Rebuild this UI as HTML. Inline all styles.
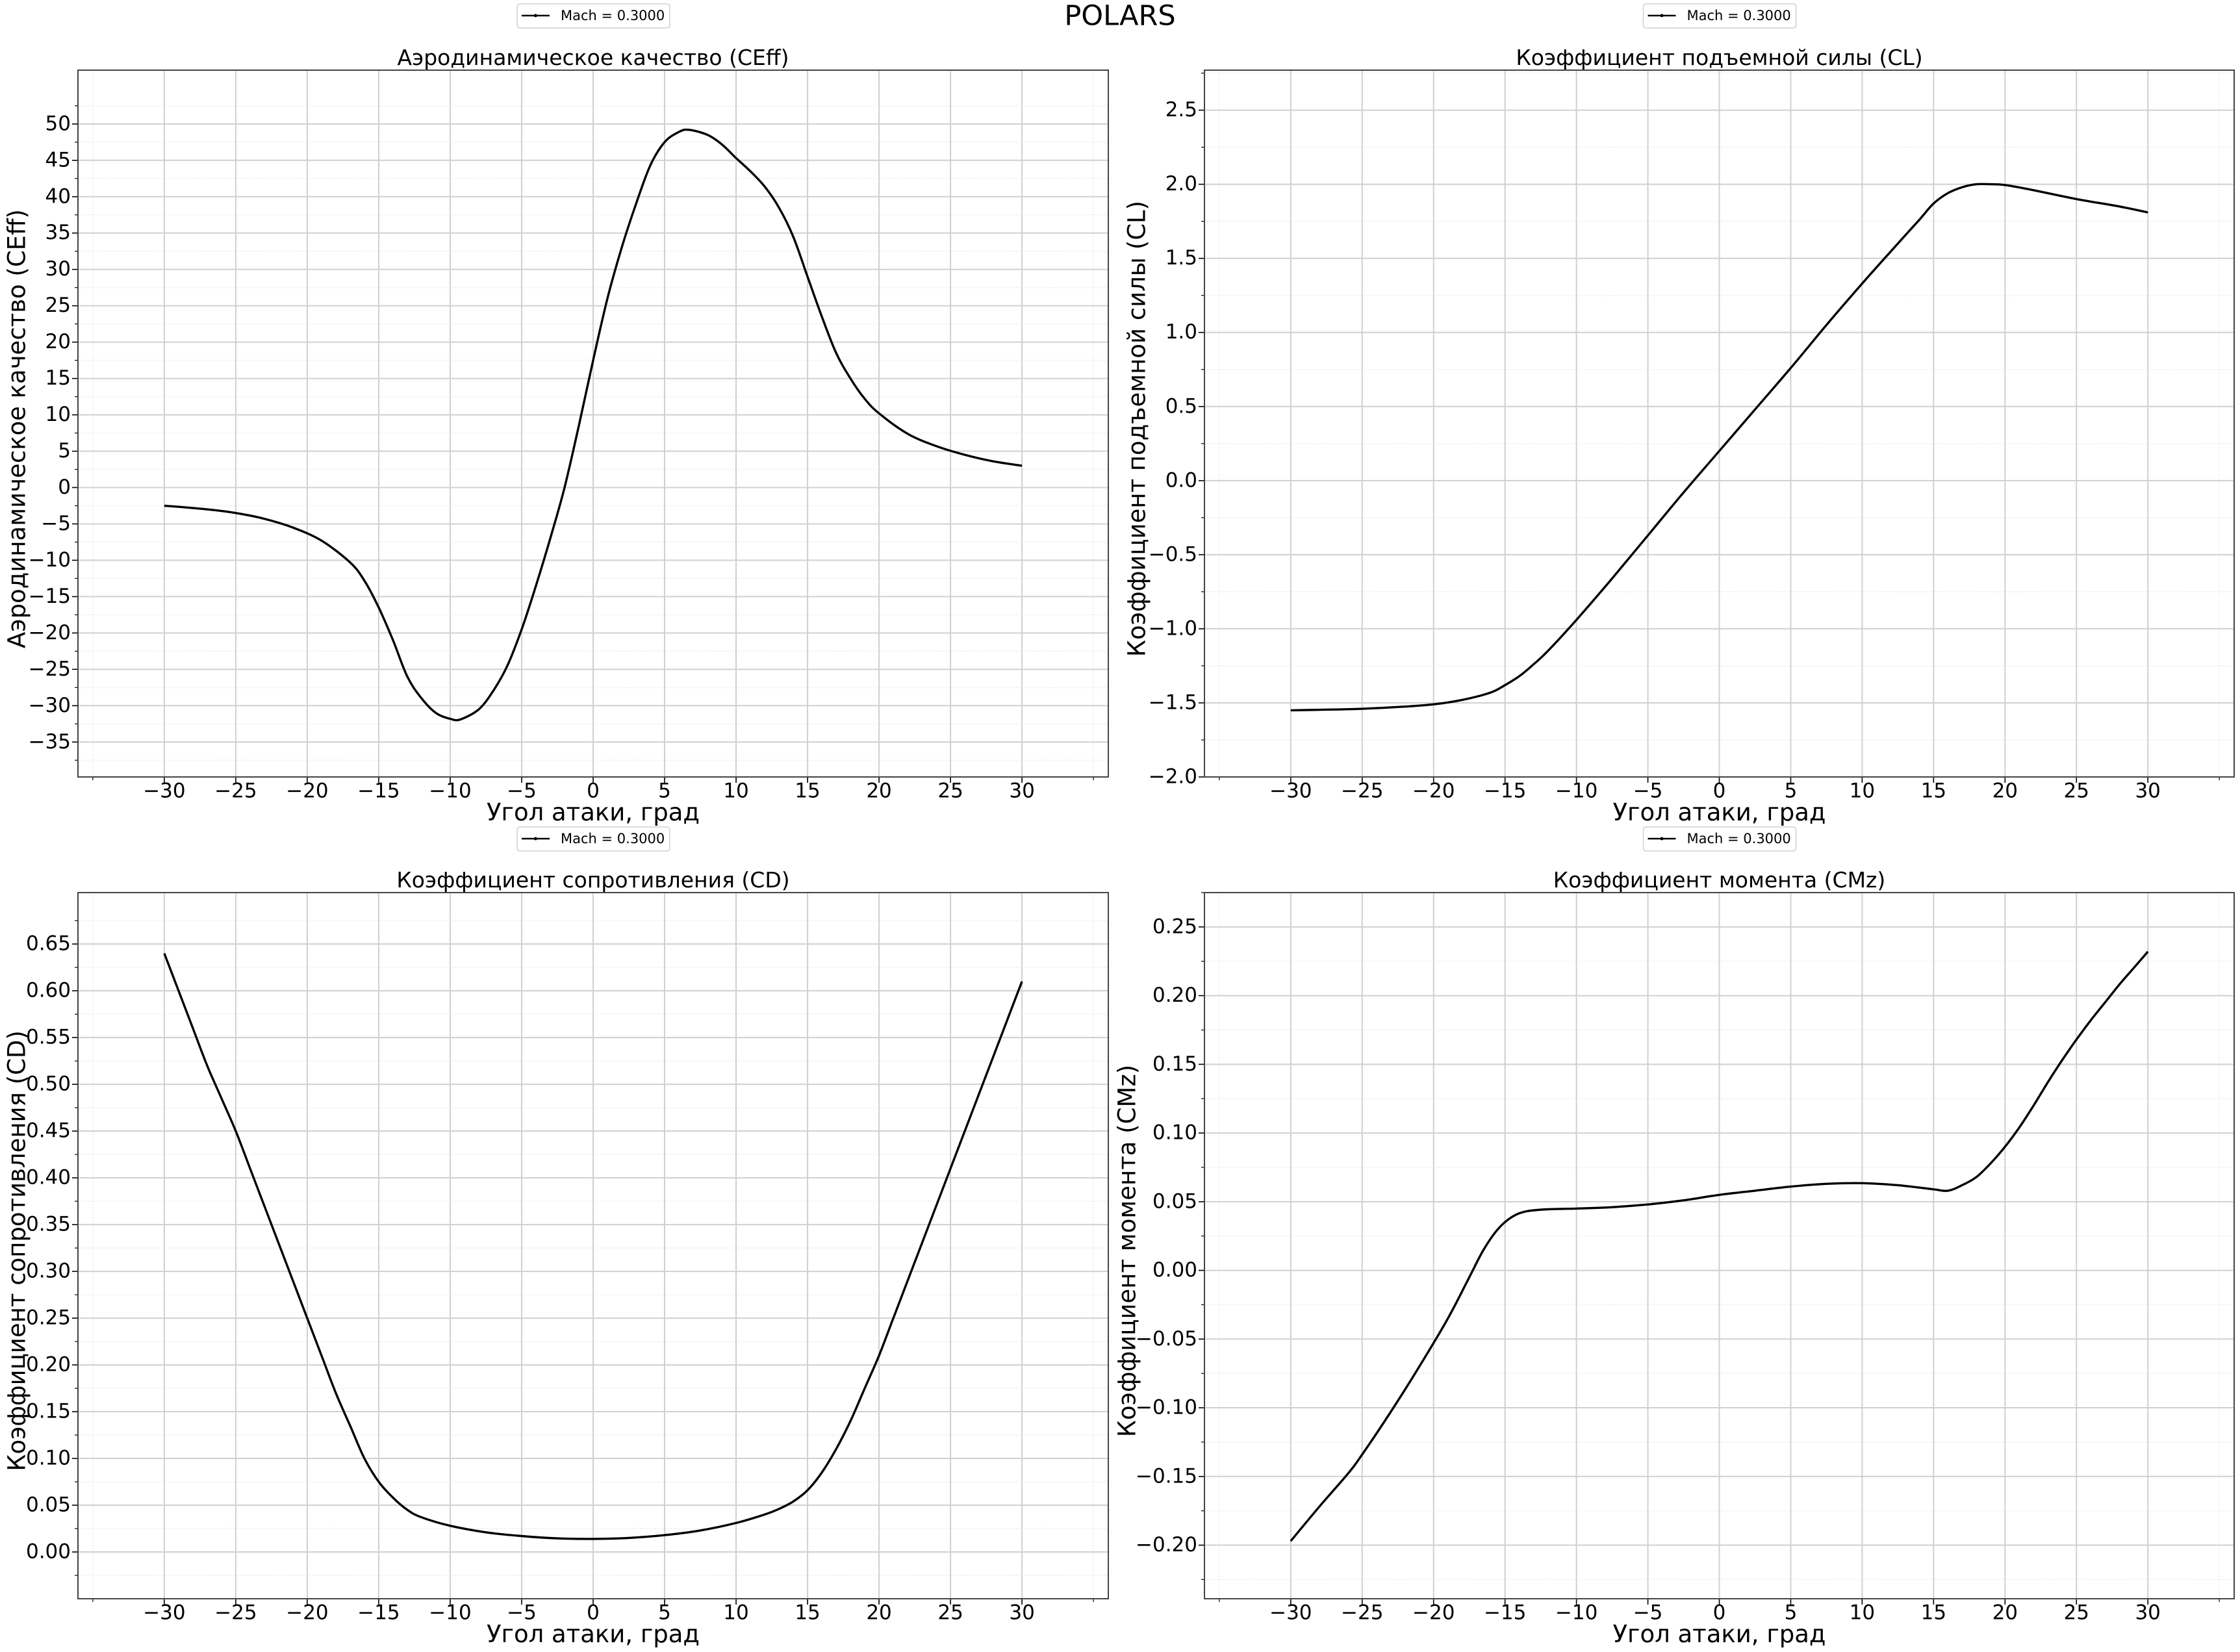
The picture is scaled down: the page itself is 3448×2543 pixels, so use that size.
<!DOCTYPE html>
<html><head><meta charset="utf-8">
<style>
html,body{margin:0;padding:0;background:#fff;}
svg{display:block;font-family:"DejaVu Sans","Liberation Sans",sans-serif;}
</style></head>
<body>
<svg id="s" width="3448" height="2543" viewBox="0 0 3448 2543" xmlns="http://www.w3.org/2000/svg">
<rect width="3448" height="2543" fill="#fff"/>
<text x="1724" y="27" font-size="43" text-anchor="middle" dominant-baseline="middle">POLARS</text>
</svg>
<script>
(function(){
var svg=document.getElementById('s');var NS='http://www.w3.org/2000/svg';
function el(t,a,txt){var e=document.createElementNS(NS,t);for(var k in a)e.setAttribute(k,a[k]);if(txt!=null)e.textContent=txt;svg.appendChild(e);return e;}
function fmt(v,d){var s=Math.abs(v).toFixed(d);if(v<-1e-9)s='\u2212'+s;return s;}
var panels=[
 {L:120,R:1706,T:108,B:1196,ymin:-39.8,ymax:57.4,yt:5,y0:-35,y1:50,dec:0,title:'Аэродинамическое качество (CEff)',yl:'Аэродинамическое качество (CEff)',ylx:28,
  pts:[[-30,-2.5],[-27,-3],[-25,-3.5],[-23,-4.3],[-21,-5.5],[-19,-7.3],[-17,-10.3],[-16,-12.8],[-15,-16.5],[-14,-21],[-13,-26],[-12,-29],[-11,-31],[-10,-31.8],[-9.3,-31.9],[-8,-30.5],[-7,-28],[-6,-24.5],[-5,-19.5],[-4,-13.5],[-3,-7],[-2,0],[-1,8.5],[0,17.5],[1,26],[2,33],[3,39],[4,44.3],[5,47.5],[6,48.9],[6.7,49.2],[8,48.5],[9,47.2],[10,45.3],[11,43.5],[12,41.4],[13,38.5],[14,34.5],[15,29],[16,23.5],[17,18.5],[18,15],[19,12.2],[20,10.2],[22,7.4],[24,5.7],[26,4.5],[28,3.6],[30,3.0]]},
 {L:1854,R:3439,T:108,B:1196,ymin:-2.0,ymax:2.77,yt:0.5,y0:-2,y1:2.5,dec:1,title:'Коэффициент подъемной силы (CL)',yl:'Коэффициент подъемной силы (CL)',ylx:1752,
  pts:[[-30,-1.55],[-27,-1.545],[-25,-1.54],[-22,-1.525],[-20,-1.51],[-18,-1.48],[-16,-1.43],[-15,-1.38],[-14,-1.32],[-13,-1.24],[-12,-1.15],[-10,-0.94],[-7.5,-0.66],[-5,-0.37],[-2.5,-0.08],[0,0.2],[2.5,0.48],[5,0.76],[7.5,1.05],[10,1.33],[12.5,1.6],[14,1.76],[15,1.87],[16,1.94],[17,1.98],[18,2.0],[19,2.0],[20,1.995],[22,1.96],[25,1.9],[28,1.85],[30,1.81]]},
 {L:120,R:1706,T:1374,B:2461,ymin:-0.05,ymax:0.705,yt:0.05,y0:0,y1:0.65,dec:2,title:'Коэффициент сопротивления (CD)',yl:'Коэффициент сопротивления (CD)',ylx:28,
  pts:[[-30,0.64],[-29,0.6],[-28,0.56],[-27,0.52],[-26,0.485],[-25,0.45],[-24,0.41],[-23,0.37],[-22,0.33],[-21,0.29],[-20,0.25],[-19,0.21],[-18,0.17],[-17,0.135],[-16,0.1],[-15,0.075],[-14,0.058],[-13,0.045],[-12,0.037],[-10,0.028],[-7.5,0.021],[-5,0.017],[-2.5,0.0145],[0,0.014],[2.5,0.015],[5,0.018],[7.5,0.023],[10,0.031],[12,0.04],[13,0.046],[14,0.054],[15,0.066],[16,0.085],[17,0.11],[18,0.14],[19,0.175],[20,0.21],[21,0.25],[22,0.29],[23,0.33],[24,0.37],[25,0.41],[26,0.45],[27,0.49],[28,0.53],[29,0.57],[30,0.61]]},
 {L:1854,R:3439,T:1374,B:2461,ymin:-0.239,ymax:0.275,yt:0.05,y0:-0.2,y1:0.25,dec:2,title:'Коэффициент момента (CMz)',yl:'Коэффициент момента (CMz)',ylx:1737,
  pts:[[-30,-0.197],[-28,-0.172],[-26,-0.148],[-25,-0.134],[-23,-0.103],[-21,-0.07],[-19,-0.035],[-17.5,-0.005],[-16.5,0.015],[-15.5,0.03],[-14.5,0.039],[-13.5,0.043],[-12,0.0445],[-10,0.045],[-7.5,0.046],[-5,0.048],[-2.5,0.051],[0,0.055],[2.5,0.058],[5,0.061],[7.5,0.063],[10,0.0635],[12.5,0.062],[15,0.059],[16,0.058],[17,0.062],[18,0.068],[19,0.078],[20,0.09],[21,0.104],[22,0.12],[23,0.137],[24,0.153],[25,0.168],[26,0.182],[27,0.195],[28,0.208],[29,0.22],[30,0.232]]}
];
var legY=[24,24,1291,1291];
panels.forEach(function(p,i){
 var xmin=-36.04,xmax=36.04;
 function X(v){return p.L+(v-xmin)/(xmax-xmin)*(p.R-p.L);}
 function Y(v){return p.B-(v-p.ymin)/(p.ymax-p.ymin)*(p.B-p.T);}
 var cx=(p.L+p.R)/2;
 for(var v=-35;v<=35;v+=5){var x=X(v);el('line',{x1:x,x2:x,y1:p.T,y2:p.B,stroke:'#ececec','stroke-width':1.5,'stroke-dasharray':'2,2'});el('line',{x1:x,x2:x,y1:p.B,y2:p.B+5,stroke:'#000','stroke-width':1.2});}
 var n=Math.round((p.y1-p.y0)/p.yt);
 for(var k=-3;k<=n+3;k++){var v=p.y0+(k+0.5)*p.yt;if(v<p.ymin||v>p.ymax)continue;var y=Y(v);el('line',{x1:p.L,x2:p.R,y1:y,y2:y,stroke:'#ececec','stroke-width':1.5,'stroke-dasharray':'2,2'});el('line',{x1:p.L-5,x2:p.L,y1:y,y2:y,stroke:'#000','stroke-width':1.2});}
 for(var v=-30;v<=30;v+=5){var x=X(v);el('line',{x1:x,x2:x,y1:p.T,y2:p.B,stroke:'#d0d0d0','stroke-width':2});el('line',{x1:x,x2:x,y1:p.B,y2:p.B+9,stroke:'#000','stroke-width':1.6});el('text',{x:x,y:p.B+23,'font-size':31,'text-anchor':'middle','dominant-baseline':'middle'},fmt(v,0));}
 for(var k=0;k<=n;k++){var v=p.y0+k*p.yt;var y=Y(v);el('line',{x1:p.L,x2:p.R,y1:y,y2:y,stroke:'#d0d0d0','stroke-width':2});el('line',{x1:p.L-9,x2:p.L,y1:y,y2:y,stroke:'#000','stroke-width':1.6});el('text',{x:p.L-11,y:y+1,'font-size':31,'text-anchor':'end','dominant-baseline':'middle'},fmt(v,p.dec));}
 var P=p.pts.map(function(a){return [X(a[0]),Y(a[1])];});
 var d='M'+P[0][0].toFixed(1)+','+P[0][1].toFixed(1);
 for(var j=0;j<P.length-1;j++){var p0=P[j-1]||P[j],p1=P[j],p2=P[j+1],p3=P[j+2]||P[j+1];
  var c1=[p1[0]+(p2[0]-p0[0])/6,p1[1]+(p2[1]-p0[1])/6],c2=[p2[0]-(p3[0]-p1[0])/6,p2[1]-(p3[1]-p1[1])/6];
  d+=' C'+c1[0].toFixed(1)+','+c1[1].toFixed(1)+' '+c2[0].toFixed(1)+','+c2[1].toFixed(1)+' '+p2[0].toFixed(1)+','+p2[1].toFixed(1);}
 el('path',{d:d,fill:'none',stroke:'#000','stroke-width':3.4,'stroke-linejoin':'round'});
 el('rect',{x:p.L,y:p.T,width:p.R-p.L,height:p.B-p.T,fill:'none',stroke:'#444','stroke-width':2});
 el('text',{x:cx,y:p.T-8,'font-size':33,'text-anchor':'middle'},p.title);
 el('text',{x:cx,y:p.B+67,'font-size':37,'text-anchor':'middle'},'Угол атаки, град');
 var yc=(p.T+p.B)/2+8;
 el('text',{x:p.ylx,y:yc,'font-size':37,'text-anchor':'middle','dominant-baseline':'middle',transform:'rotate(-90 '+p.ylx+' '+yc+')'},p.yl);
 var ly=legY[i],lx=cx-117;
 el('rect',{x:lx,y:ly-18,width:235,height:37,rx:4,fill:'#fff',stroke:'#d0d0d0','stroke-width':1.5});
 el('line',{x1:lx+7,x2:lx+50,y1:ly,y2:ly,stroke:'#000','stroke-width':2.5});
 el('circle',{cx:lx+28.5,cy:ly,r:2.5,fill:'#000'});
 el('text',{x:lx+67,y:ly+1,'font-size':21,'dominant-baseline':'middle'},'Mach = 0.3000');
});
})();
</script>
</body></html>
